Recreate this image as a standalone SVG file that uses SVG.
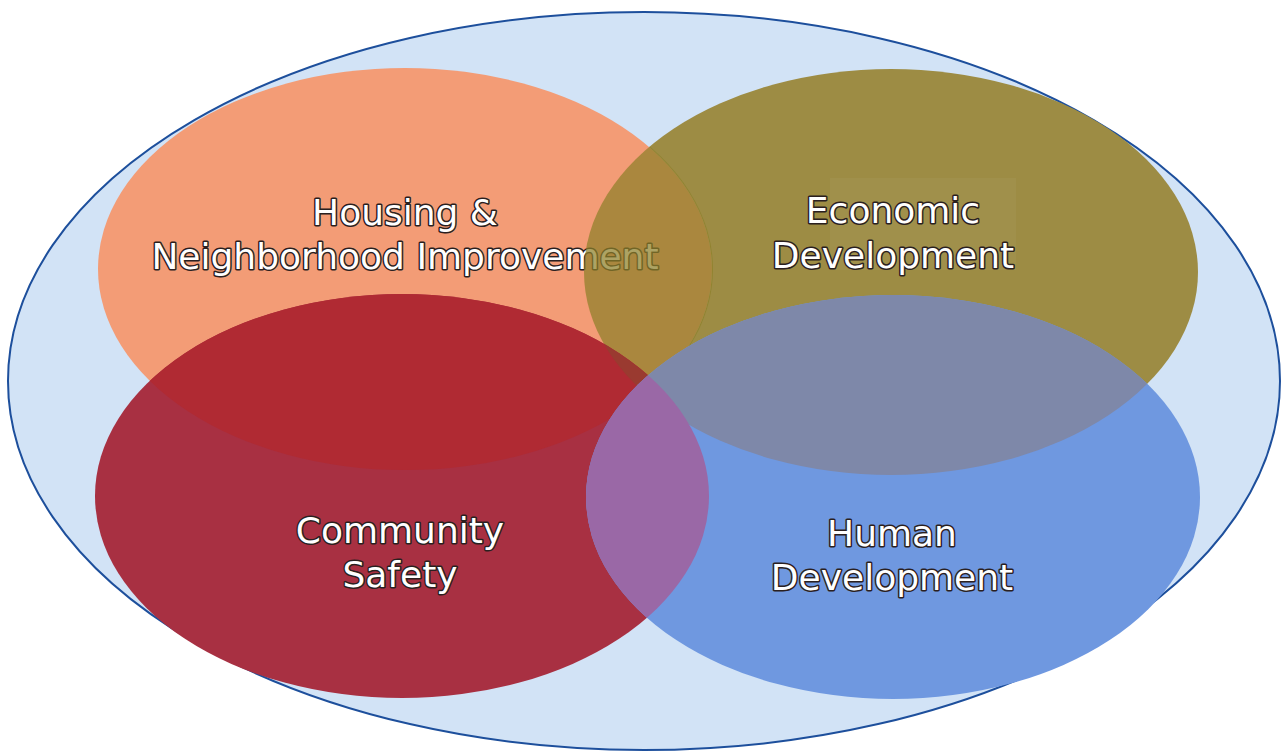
<svg xmlns="http://www.w3.org/2000/svg" width="1283" height="754" viewBox="0 0 1283 754">
  <style>
    .lbl { font-family: "DejaVu Sans", Verdana, sans-serif; font-size: 36px; fill: #ffffff; stroke: #2a2020; stroke-width: 3px; paint-order: stroke; stroke-linejoin: round; text-anchor: middle; }
  </style>
  <defs>
    <clipPath id="cOrange"><ellipse cx="405" cy="269" rx="307" ry="201"/></clipPath>
    <clipPath id="cOrangeWide"><ellipse cx="405" cy="269" rx="308" ry="202"/></clipPath>
    <clipPath id="cOlive"><ellipse cx="891" cy="272" rx="307" ry="203"/></clipPath>
    <clipPath id="cRed"><ellipse cx="402" cy="496" rx="307" ry="202"/></clipPath>
    <!-- everything except the orange ellipse -->
    <mask id="mNotOrange" maskUnits="userSpaceOnUse" x="0" y="0" width="1283" height="754">
      <rect width="1283" height="754" fill="#ffffff"/>
      <ellipse cx="405" cy="269" rx="307" ry="201" fill="#000000"/>
    </mask>
  </defs>
  <rect width="1283" height="754" fill="#ffffff"/>

  <!-- enclosing field -->
  <g id="outer">
    <ellipse cx="644" cy="381" rx="636" ry="369" fill="#d2e3f6" stroke="#1d4f9c" stroke-width="2"/>
  </g>

  <!-- Housing & Neighborhood Improvement -->
  <g id="housing">
    <ellipse cx="405" cy="269" rx="307" ry="201" fill="#f39c76"/>
    <text class="lbl" x="405" y="225">Housing &amp;</text>
    <text class="lbl" x="405" y="269">Neighborhood Improvement</text>
  </g>

  <!-- Economic Development -->
  <g id="economic">
    <ellipse cx="891" cy="272" rx="307" ry="203" fill="#9d8c44" mask="url(#mNotOrange)"/>
    <!-- translucent olive over the orange ellipse and its label -->
    <g clip-path="url(#cOrangeWide)">
      <ellipse cx="891" cy="272" rx="307" ry="203" fill="#8e8028" fill-opacity="0.72"/>
    </g>
    <rect x="830" y="178" width="186" height="92" fill="#ffffff" fill-opacity="0.04"/>
    <text class="lbl" x="893" y="223">Economic</text>
    <text class="lbl" x="893" y="268">Development</text>
  </g>

  <!-- Community Safety -->
  <g id="community">
    <ellipse cx="402" cy="496" rx="307" ry="202" fill="#a83042"/>
    <g clip-path="url(#cOrange)">
      <ellipse cx="402" cy="496" rx="307" ry="202" fill="#b02a33"/>
    </g>
    <g clip-path="url(#cOlive)">
      <ellipse cx="402" cy="496" rx="307" ry="202" fill="#9a3a30"/>
    </g>
    <text class="lbl" x="400" y="543">Community</text>
    <text class="lbl" x="400" y="587">Safety</text>
  </g>

  <!-- Human Development -->
  <g id="human">
    <ellipse cx="893" cy="497" rx="307" ry="202" fill="#6f98e0"/>
    <g clip-path="url(#cOlive)">
      <ellipse cx="893" cy="497" rx="307" ry="202" fill="#7e88a9"/>
    </g>
    <g clip-path="url(#cRed)">
      <ellipse cx="893" cy="497" rx="307" ry="202" fill="#9a68a6"/>
    </g>
    <text class="lbl" x="892" y="546">Human</text>
    <text class="lbl" x="892" y="590">Development</text>
  </g>
</svg>
